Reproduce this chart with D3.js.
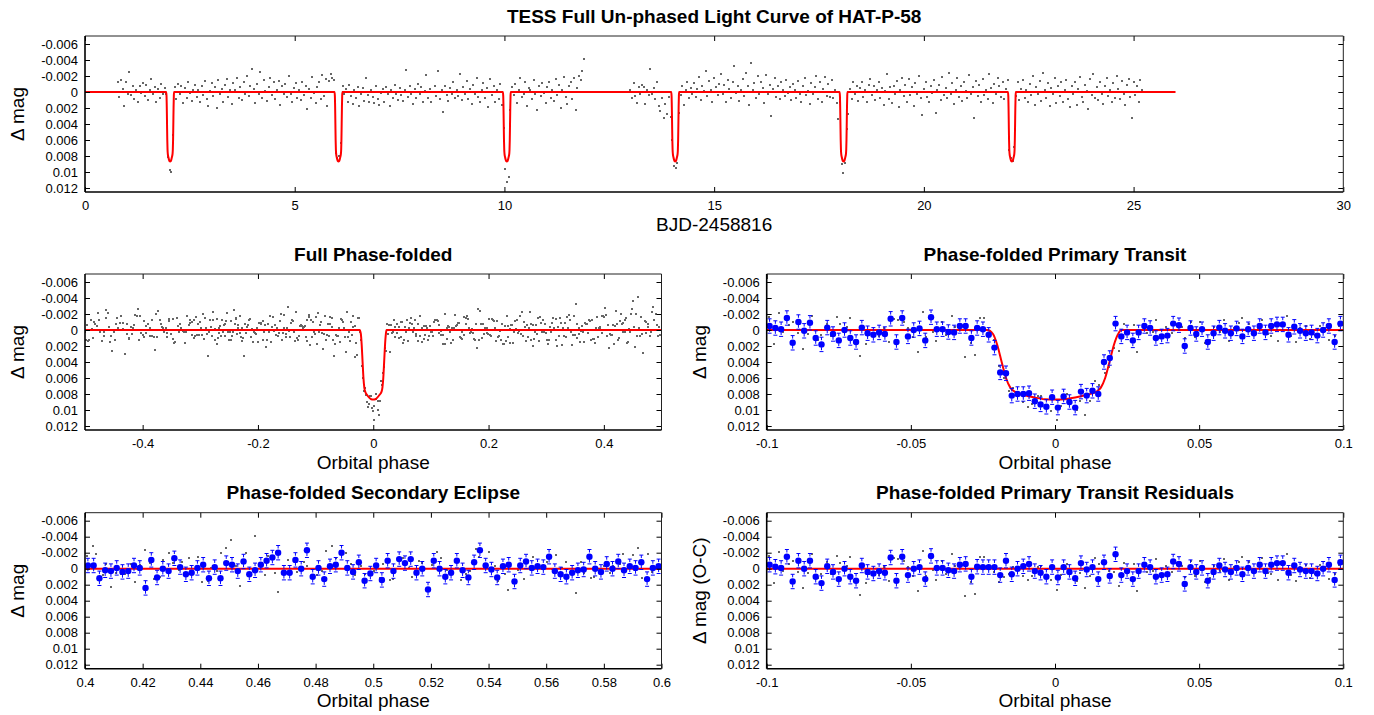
<!doctype html>
<html lang="en">
<head>
  <meta charset="utf-8">
  <title>TESS light curve of HAT-P-58</title>
  <script src="https://d3js.org/d3.v7.min.js"></script>
  <style>
  body {
    margin: 0;
    padding: 0;
    background: #fff;
  }
  svg {
    display: block;
    font-family: "Liberation Sans", Arial, Helvetica, sans-serif;
  }
  .title {
    font-weight: bold;
    font-size: 19px;
    text-anchor: middle;
  }
  .alabel {
    font-size: 19px;
    text-anchor: middle;
  }
  .tick text {
    font-family: "Liberation Sans", Arial, Helvetica, sans-serif;
    font-size: 13px;
    fill: #000;
  }
  .tick line {
    stroke: #000;
  }
  </style>
</head>
<body>
<svg id="chart" width="1374" height="715"></svg>
<script>

// ephemeris (days, BJD-2458816)
var period = 4.0138;
var epoch = 2.03;

// TESS photometry, two orbits, regular cadence; values in mmag
var cadence = 0.04;
var segAStart = 0.78;
var segAmag = [
  -1.2, 0.6, -1.5, -0.4, 1.7, -1.3, 0.2, -2.5, 0.4, -0.8,
  0.9, -0.3, 1.3, -0.7, 0.1, -1.1, 0.5, -0.9, 1.0, -0.2,
  -1.6, 0.3, -0.6, 1.2, -0.4, 0.8, -1.0, 0.2, -0.5, 0.3,
  8.1, 9.8, 10.0, 5.4, -0.6, 0.9, -1.0, 0.3, -0.8, 1.4,
  -0.5, 0.7, -1.2, 0.1, 1.1, -0.3, -0.9, 0.6, -0.2, 1.3,
  -0.7, 0.4, -1.4, 0.9, 1.8, -0.1, -1.1, 0.5, -0.6, 2.0,
  -1.5, 0.2, -0.4, 1.2, -0.9, -1.6, 0.6, -0.3, 1.5, -1.1,
  -0.2, -1.7, 0.8, -0.6, 1.0, -1.3, 0.3, -2.0, 0.5, -0.8,
  -2.9, -0.4, 1.4, -1.0, 0.2, -2.5, 0.7, -1.5, -0.1, 1.1,
  -0.6, -1.8, 0.4, -1.2, 0.9, -0.3, -1.4, 1.6, -0.7, 0.2,
  -1.0, 0.6, -2.0, 0.3, 1.3, -0.5, -1.1, 0.8, -0.2, 1.0,
  -1.3, 0.4, -0.8, 2.1, -0.4, 0.7, -1.9, 0.1, 1.4, -0.6,
  -1.2, 0.9, -2.1, 0.5, -1.6, 1.8, -1.4, -2.2, -1.8, -1.5,
  7.6, 8.3, 8.0, 6.4, -0.7, 0.3, -0.4, 1.2, -0.9, 0.5,
  1.5, -0.2, 0.8, -0.6, 1.7, 0.2, -0.5, 1.1, -1.8, 0.4,
  1.3, -0.3, 0.6, 1.4, -0.8, 0.9, 1.6, 0.1, -0.4, 1.2,
  -0.6, 0.3, 1.8, -0.2, 0.7, -0.9, 0.2, 1.0, -0.5, 0.4,
  1.1, -0.3, -2.8, 0.6, -0.7, 0.2, 1.5, -0.4, 0.8, -1.0,
  0.3, -0.6, 1.2, -0.1, -2.1, 0.7, -0.4, 1.3, 0.0, -0.8,
  0.5, -2.6, 0.9, -0.3, 2.5, -0.7, 0.4, 1.1, -0.5, 0.2,
  -1.2, 0.8, -0.2, 0.5, -2.2, 1.0, -0.6, 0.3, -1.4, 0.9,
  -0.4, 1.5, -0.9, 0.2, -1.7, 0.6, 1.2, -0.3, -1.1, 0.7,
  -0.5, 1.9, -1.6, 0.4, -0.8, 1.3, -0.2, 0.9, -1.0, 1.6,
  4.5, 9.6, 11.3, 10.6, 2.2, -0.6, 0.4, -1.0, 1.4, -0.3,
  -1.8, 0.6, 0.2, -1.2, 1.7, -0.5, -0.2, 0.9, -1.5, 0.3,
  2.3, -0.7, 0.5, -1.1, 0.1, 1.4, -0.6, -1.3, 0.8, -0.2,
  1.1, -1.6, 0.4, -0.9, 2.0, -0.3, -1.9, 0.6, 1.5, -0.8,
  -1.2, 0.9, -1.7, 2.3, -0.5, -2.0, -1.5, -2.6, -4.1
];
var segBStart = 13.00;
var segBmag = [
  -0.3, 0.8, -1.1, 0.5, 1.4, -0.6, 0.2, -0.9, -0.6, 1.5,
  -0.3, 0.4, -2.9, 0.2, -0.5, 0.9, -1.2, 1.8, 2.4, 0.7,
  3.3, 1.5, 2.8, 0.6, 3.1, 6.0, 9.3, 9.5, 8.9, 2.6,
  0.4, -0.7, 1.6, -0.2, -1.3, 0.8, -0.5, 0.3, -1.1, 0.6,
  -0.4, -1.9, 1.0, -0.8, -0.1, -2.6, 0.5, -1.4, -0.3, 1.2,
  -1.7, -0.6, 0.4, -1.0, -2.2, 0.2, -0.9, 1.3, -1.5, -0.4,
  0.7, -1.2, -3.3, 0.1, -0.8, 1.1, -0.2, -1.6, 0.5, -2.4,
  -0.7, 1.6, -3.6, -0.3, -1.1, 0.8, -2.0, 0.3, -1.3, -0.5,
  1.4, -2.1, 0.2, -0.9, 3.0, -0.4, -1.7, 0.6, -0.8, 0.9,
  -1.2, -0.2, 0.5, -1.5, 0.1, -0.6, 1.0, -1.0, -0.3, 0.7,
  -1.4, 0.2, 1.3, -0.7, -1.8, 0.4, -0.1, 1.5, -1.1, 0.3,
  -0.6, -2.0, 0.9, -1.3, 1.2, -0.4, -1.9, 0.5, -1.0, 0.6,
  -1.5, 0.8, -0.2, 1.4, 3.4, 1.2, 9.0, 10.1, 8.9, 4.6,
  2.8, -0.4, 0.9, -1.2, 0.3, -0.8, 1.1, -0.5, -1.3, 0.6,
  -0.2, 1.3, -0.9, -1.6, 0.4, -0.7, 1.0, -0.3, -1.2, 0.7,
  -0.5, 1.6, -0.1, -2.2, 0.9, -0.6, 1.4, -0.8, 0.2, -1.4,
  1.9, -0.3, -1.8, 0.5, -0.9, 1.2, -1.6, 0.4, -0.6, 1.7,
  -1.1, 0.3, -2.0, 0.8, 2.9, -0.4, -1.3, 0.6, 1.3, -0.7,
  0.1, -1.5, 2.6, -0.2, -0.9, 1.0, -1.9, 0.4, -0.5, 0.8,
  -2.4, 0.3, -1.1, 1.5, -0.3, -1.7, 0.6, -0.8, 1.1, -1.3,
  -0.1, 0.7, -2.1, 0.2, -0.6, 3.2, -1.4, 0.5, -0.9, 1.2,
  -1.6, 0.4, -0.3, 0.9, -2.2, -0.5, 1.4, -1.0, 0.3, -1.8,
  -0.7, 0.6, -1.2, 0.9, -0.4, -1.5, 7.3, 8.3, 8.6, 6.9,
  0.5, -1.2, 1.0, -0.4, -1.5, 0.7, -0.2, 1.3, -1.0, 0.4,
  -2.0, 1.6, -0.6, 0.2, -1.4, 1.1, -2.4, -0.3, 0.8, -1.1,
  1.7, -0.5, 0.3, -1.7, 1.4, -0.8, 0.5, -1.3, 1.2, -0.2,
  -1.5, 0.9, 1.9, -0.7, 0.2, -1.2, 1.6, -0.4, -1.9, 0.6,
  1.3, -0.9, -0.1, 2.1, -1.6, 0.4, -2.2, 0.8, -0.6, 1.0,
  -1.3, 0.3, 1.5, -0.8, -1.7, 0.5, -0.3, 1.2, -1.1, 0.7,
  -2.0, -0.4, 0.9, -1.4, 0.2, 1.6, -0.9, -1.6, 0.6, 3.2,
  -1.2, 0.4, -0.7, 1.3, -1.5, -0.2
];

// fitted transit model (orbital phase, mmag)
var modelPhase = [-0.5, -0.0235, -0.0215, -0.0200, -0.0185, -0.0170, -0.0155, -0.0140, -0.0110, -0.0070, -0.0035, 0,
                  0.0035, 0.0070, 0.0110, 0.0144, 0.0159, 0.0174, 0.0189, 0.0204, 0.0219, 0.0230, 0.5];
var modelMag   = [0, 0, 0.5, 1.9, 4.0, 6.0, 7.2, 7.7, 8.1, 8.45, 8.65, 8.7,
                  8.65, 8.45, 8.1, 7.7, 7.2, 6.0, 4.0, 1.9, 0.5, 0, 0];
var modelEnd = 26;

// binned points (bin width 0.002 in phase), mmag
var binWidth = 0.002;
var binErr = 0.9;
var transitBin = [
  -0.5, -0.25, -0.1, -1.5, 1.6, -1.0, 0.1, -0.9, 1.0, 1.8,
  -0.3, 0.5, 1.3, 0, 1.0, 1.5, -0.3, 0.4, 0.6, 0.3,
  0.5, -1.4, 1.5, -1.5, 0.8, 0, -0.2, 1.3, -1.6, -0.1,
  -0.1, 0.25, 0.3, -0.5, -0.5, 1.0, -0.25, -0.1, 0.6, 2.2,
  5.3, 5.4, 8.2, 8.0, 8.0, 7.9, 8.9, 9.3, 9.6, 8.4,
  9.7, 8.3, 9.0, 9.7, 7.7, 8.2, 7.6, 8.0, 4.0, 3.5,
  -0.8, 0.8, 0.3, 1.3, 0.3, -0.5, -0.25, 1.0, 0.8, 0.7,
  -0.8, -0.6, 2.0, -0.25, 0.5, -0.1, 1.5, 0.4, -0.3, 0.1,
  0.4, -0.2, 0.8, -0.1, 0.4, -0.5, 0.3, -0.5, -0.7, -0.7,
  0.6, -0.4, 0.1, 0.4, 0.3, 0.7, 0, -0.5, 1.5, -0.8
];
var secondaryBin = [
  -0.4, -0.4, 1.2, 0.2, 0.3, -0.1, 0.4, 0.3, -0.4, -0.1,
  2.4, -1.1, 1.1, 0, 0.3, -1.3, -0.2, 0.7, 0.5, -0.1,
  -0.5, 1.2, -0.2, 1.2, -0.7, -0.5, 0.3, -0.9, 0.7, 0.2,
  -0.5, -1.0, -1.4, -2.0, 0.5, 0.5, -1.1, 0, -2.3, 1.0,
  -0.1, 1.3, -0.3, -0.5, -2.0, -0.1, 0.4, -0.8, 1.5, 0.6,
  -0.4, 1.4, -1.0, 0.3, -1.2, -0.7, -1.2, 0.5, 0, 2.6,
  -1.0, 0, 1.0, 0.5, -1.0, 0.2, 1.1, -0.8, -2.3, -0.4,
  0.1, 1.1, -0.3, -0.5, 1.6, -0.4, -0.9, -0.1, -0.3, -0.2,
  -1.5, 0.3, 0.7, 1.0, 0.5, 0.2, 0.1, -1.5, 0, 0.4,
  -0.6, 0, -0.9, 0.2, -0.3, -0.1, -0.8, 1.3, -0.1, -0.3
];
var residualBin = [
  -0.5, -0.25, -0.1, -1.5, 1.6, -1.0, 0, -1.0, 1.0, 1.8,
  -0.3, 0.4, 1.3, 0, 1.0, 1.5, -0.4, 0.4, 0.6, 0.3,
  0.5, -1.4, 1.5, -1.5, 0.8, 0, -0.2, 1.3, -1.6, -0.1,
  -0.1, 0.2, 0.3, -0.5, -0.6, 1.0, -0.25, -0.2, -0.2, -0.2,
  0.8, -1.0, 0.7, 0, -0.3, -0.6, 0.3, 0.5, 1.0, -0.2,
  1.1, -0.2, 0.4, 1.2, -0.7, 0.1, -0.2, 1.3, -0.8, 0.9,
  -1.8, 0.8, 0.3, 1.3, 0.3, -0.5, -0.2, 1.0, 0.8, 0.7,
  -0.9, -0.6, 1.9, -0.2, 0.4, -0.1, 1.5, 0.4, -0.4, 0.1,
  0.4, -0.1, 0.7, -0.1, 0.3, -0.5, 0.3, -0.5, -0.7, -0.7,
  0.5, -0.4, 0.1, 0.3, 0.3, 0.6, 0, -0.5, 1.4, -0.8
];

// axes
var magDomain = [-0.007, 0.0125];
var magTicks = [-0.006, -0.004, -0.002, 0, 0.002, 0.004, 0.006, 0.008, 0.01, 0.012];
var bjdTicks = [0, 5, 10, 15, 20, 25, 30];
var foldTicks = [-0.4, -0.2, 0, 0.2, 0.4];
var transitTicks = [-0.1, -0.05, 0, 0.05, 0.1];
var secTicks = [0.4, 0.42, 0.44, 0.46, 0.48, 0.5, 0.52, 0.54, 0.56, 0.58, 0.6];

var svg = d3.select("#chart");
var fmt = function(v) { return String(+v.toFixed(3)); };

function makePanel(o) {
  var x = d3.scaleLinear().domain(o.xDomain).range([o.x0, o.x1]);
  var y = d3.scaleLinear().domain(magDomain).range([o.y0, o.y1]);
  var g = svg.append('g');
  var cid = 'clip-' + o.id;
  g.append('clipPath').attr('id', cid).append('rect')
    .attr('x', o.x0).attr('y', o.y0).attr('width', o.x1 - o.x0).attr('height', o.y1 - o.y0);
  var plot = g.append('g').attr('clip-path', 'url(#' + cid + ')');

  var ax = g.append('g');
  function clean(sel) { sel.select('.domain').remove(); sel.attr('font-family', null).attr('font-size', null); }
  ax.append('g').attr('transform', 'translate(0,' + o.y1 + ')')
    .call(d3.axisBottom(x).tickValues(o.xTicks).tickSize(-5).tickSizeOuter(0).tickPadding(9).tickFormat(fmt)).call(clean);
  ax.append('g').attr('transform', 'translate(0,' + o.y0 + ')')
    .call(d3.axisTop(x).tickValues(o.xTicks).tickSize(-5).tickSizeOuter(0).tickFormat('')).call(clean);
  ax.append('g').attr('transform', 'translate(' + o.x0 + ',0)')
    .call(d3.axisLeft(y).tickValues(magTicks).tickSize(-5).tickSizeOuter(0).tickPadding(7).tickFormat(fmt)).call(clean);
  ax.append('g').attr('transform', 'translate(' + o.x1 + ',0)')
    .call(d3.axisRight(y).tickValues(magTicks).tickSize(-5).tickSizeOuter(0).tickFormat('')).call(clean);

  // frame: heavier left/bottom like the original
  ax.append('line').attr('x1', o.x0).attr('x2', o.x1).attr('y1', o.y0).attr('y2', o.y0).attr('stroke', '#222').attr('stroke-width', 1);
  ax.append('line').attr('x1', o.x1).attr('x2', o.x1).attr('y1', o.y0).attr('y2', o.y1).attr('stroke', '#222').attr('stroke-width', 1);
  ax.append('line').attr('x1', o.x0).attr('x2', o.x1).attr('y1', o.y1).attr('y2', o.y1).attr('stroke', '#000').attr('stroke-width', 1.6);
  ax.append('line').attr('x1', o.x0).attr('x2', o.x0).attr('y1', o.y0).attr('y2', o.y1).attr('stroke', '#000').attr('stroke-width', 1.6);

  g.append('text').attr('class', 'title').attr('x', (o.x0 + o.x1) / 2).attr('y', o.y0 - 13.5).text(o.title);
  g.append('text').attr('class', 'alabel').attr('x', (o.x0 + o.x1) / 2).attr('y', o.y1 + 38.5).text(o.xLabel);
  g.append('text').attr('class', 'alabel')
    .attr('transform', 'translate(' + (o.x0 - 61) + ',' + ((o.y0 + o.y1) / 2) + ') rotate(-90)')
    .text(o.yLabel);

  return { x: x, y: y, plot: plot };
}

function greyPoints(p, pts) {
  p.plot.append('g').attr('shape-rendering', 'crispEdges')
    .selectAll('rect').data(pts).join('rect')
    .attr('x', function(d) { return p.x(d.x) - 1; })
    .attr('y', function(d) { return p.y(d.m) - 1; })
    .attr('width', 2).attr('height', 2)
    .attr('fill', '#666');
}

function modelLine(p, pts) {
  var line = d3.line()
    .x(function(d) { return p.x(d[0]); })
    .y(function(d) { return p.y(d[1]); })
    .curve(d3.curveMonotoneX);
  p.plot.append('path').datum(pts).attr('d', line)
    .attr('fill', 'none').attr('stroke', '#ff0000').attr('stroke-width', 2);
}

function binnedPoints(p, start, vals) {
  var data = vals.map(function(v, i) { return { ph: start + binWidth * (i + 0.5), m: v / 1000 }; });
  var e = binErr / 1000;
  var eb = p.plot.append('g').attr('stroke', '#0000ff').attr('stroke-width', 1).attr('fill', 'none');
  eb.selectAll('line.bar').data(data).join('line').attr('class', 'bar')
    .attr('x1', function(d) { return p.x(d.ph); }).attr('x2', function(d) { return p.x(d.ph); })
    .attr('y1', function(d) { return p.y(d.m - e); }).attr('y2', function(d) { return p.y(d.m + e); })
    .attr('stroke-dasharray', '3,2');
  eb.selectAll('line.capt').data(data).join('line').attr('class', 'capt')
    .attr('x1', function(d) { return p.x(d.ph) - 2; }).attr('x2', function(d) { return p.x(d.ph) + 2; })
    .attr('y1', function(d) { return p.y(d.m - e); }).attr('y2', function(d) { return p.y(d.m - e); });
  eb.selectAll('line.capb').data(data).join('line').attr('class', 'capb')
    .attr('x1', function(d) { return p.x(d.ph) - 2; }).attr('x2', function(d) { return p.x(d.ph) + 2; })
    .attr('y1', function(d) { return p.y(d.m + e); }).attr('y2', function(d) { return p.y(d.m + e); });
  p.plot.append('g').selectAll('circle').data(data).join('circle')
    .attr('cx', function(d) { return p.x(d.ph); })
    .attr('cy', function(d) { return p.y(d.m); })
    .attr('r', 3.2).attr('fill', '#0000ff');
}

// observations
var obs = segAmag.map(function(m, i) { return { t: segAStart + cadence * i, m: m / 1000 }; })
  .concat(segBmag.map(function(m, i) { return { t: segBStart + cadence * i, m: m / 1000 }; }));
obs.forEach(function(d) {
  var c = (d.t - epoch) / period;
  d.ph = c - Math.round(c);
});

var modelAt = d3.scaleLinear().domain(modelPhase).range(modelMag).clamp(true);
var modelPts = modelPhase.map(function(ph, i) { return [ph, modelMag[i] / 1000]; });

// ---- panel 1: full light curve
var p1 = makePanel({ id: 'lc', x0: 85, x1: 1343.3, y0: 36, y1: 192, xDomain: [0, 30], xTicks: bjdTicks,
  title: 'TESS Full Un-phased Light Curve of HAT-P-58', xLabel: 'BJD-2458816', yLabel: 'Δ mag' });
greyPoints(p1, obs.map(function(d) { return { x: d.t, m: d.m }; }));
var lcModel = [[0, 0]];
d3.range(Math.ceil((modelEnd - epoch) / period)).forEach(function(n) {
  var tc = epoch + n * period;
  modelPts.forEach(function(q) {
    if (Math.abs(q[0]) < 0.5) { lcModel.push([tc + q[0] * period, q[1]]); }
  });
});
lcModel.push([modelEnd, 0]);
modelLine(p1, lcModel);

// ---- panel 2: full phase-folded
var p2 = makePanel({ id: 'fold', x0: 85, x1: 661.5, y0: 274, y1: 430, xDomain: [-0.5, 0.5], xTicks: foldTicks,
  title: 'Full Phase-folded', xLabel: 'Orbital phase', yLabel: 'Δ mag' });
greyPoints(p2, obs.map(function(d) { return { x: d.ph, m: d.m }; }));
modelLine(p2, modelPts);

// ---- panel 3: primary transit
var p3 = makePanel({ id: 'tr', x0: 766.7, x1: 1343.3, y0: 274, y1: 430, xDomain: [-0.1, 0.1], xTicks: transitTicks,
  title: 'Phase-folded Primary Transit', xLabel: 'Orbital phase', yLabel: 'Δ mag' });
var inWin = obs.filter(function(d) { return Math.abs(d.ph) <= 0.1; });
greyPoints(p3, inWin.map(function(d) { return { x: d.ph, m: d.m }; }));
modelLine(p3, modelPts);
binnedPoints(p3, -0.1, transitBin);

// ---- panel 4: secondary eclipse
var p4 = makePanel({ id: 'sec', x0: 85, x1: 661.5, y0: 512.7, y1: 668.7, xDomain: [0.4, 0.6], xTicks: secTicks,
  title: 'Phase-folded Secondary Eclipse', xLabel: 'Orbital phase', yLabel: 'Δ mag' });
var secPts = obs.map(function(d) { return { x: d.ph < 0 ? d.ph + 1 : d.ph, m: d.m }; })
  .filter(function(d) { return d.x >= 0.4 && d.x <= 0.6; });
greyPoints(p4, secPts);
modelLine(p4, [[0.4, 0], [0.6, 0]]);
binnedPoints(p4, 0.4, secondaryBin);

// ---- panel 5: residuals
var p5 = makePanel({ id: 'res', x0: 766.7, x1: 1343.3, y0: 512.7, y1: 668.7, xDomain: [-0.1, 0.1], xTicks: transitTicks,
  title: 'Phase-folded Primary Transit Residuals', xLabel: 'Orbital phase', yLabel: 'Δ mag (O-C)' });
greyPoints(p5, inWin.map(function(d) { return { x: d.ph, m: d.m - modelAt(d.ph) / 1000 }; }));
modelLine(p5, [[-0.1, 0], [0.1, 0]]);
binnedPoints(p5, -0.1, residualBin);

</script>
</body>
</html>
